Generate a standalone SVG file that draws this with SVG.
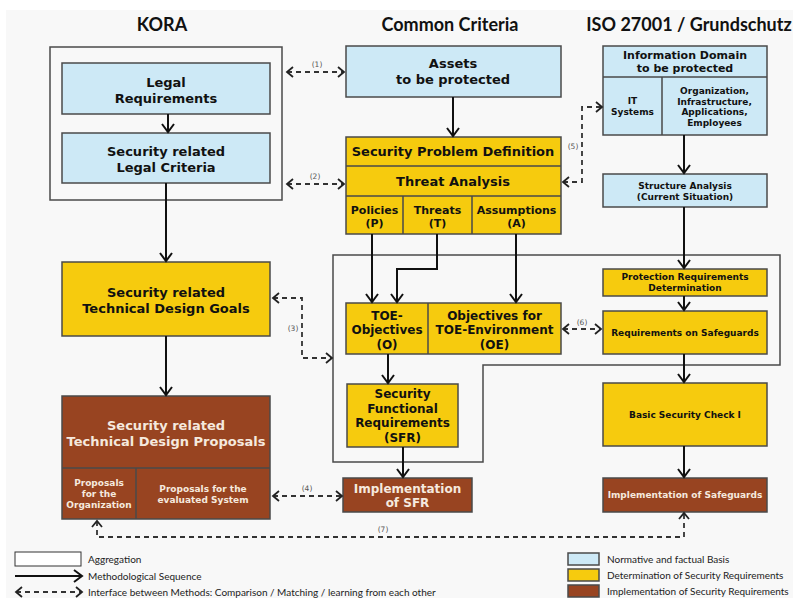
<svg xmlns="http://www.w3.org/2000/svg" width="793" height="598" viewBox="0 0 793 598">
<style>
.bl{fill:#cde9f6;stroke:#4a4a4a;stroke-width:1.5}
.ye{fill:#f6cb0e;stroke:#4a4a4a;stroke-width:1.5}
.br{fill:#984421;stroke:#4a4a4a;stroke-width:1.5}
.div{stroke:#4a4a4a;stroke-width:1.5;fill:none}
.agg{fill:none;stroke:#4a4a4a;stroke-width:1.5}
.t{font-family:"DejaVu Sans",Verdana,sans-serif;font-weight:bold;fill:#111;text-anchor:middle}
.w{fill:#f5e9de}
.f13{font-size:13px}
.f12{font-size:12px}
.f11{font-size:11px}
.f9{font-size:9px}
.ttl{font-family:Lato,"Open Sans",sans-serif;font-weight:bold;font-size:18px;fill:#111;text-anchor:middle}
.lg{font-family:Lato,"Open Sans",sans-serif;font-size:10px;fill:#222}
.num{font-family:"DejaVu Sans",sans-serif;font-size:7.5px;fill:#555;text-anchor:middle}
.sol{stroke:#111;stroke-width:2;fill:none;marker-end:url(#ah)}
.das{stroke:#333;stroke-width:1.8;fill:none;stroke-dasharray:5,4;marker-start:url(#dh);marker-end:url(#dh)}
</style>
<defs>
<marker id="ah" markerUnits="userSpaceOnUse" markerWidth="16" markerHeight="16" viewBox="-9 -8 10 16" refX="0" refY="0" orient="auto">
<path d="M-8,-6 L0,0 L-8,6" fill="none" stroke="#111" stroke-width="2"/>
</marker>
<marker id="dh" markerUnits="userSpaceOnUse" markerWidth="14" markerHeight="14" viewBox="-8 -7 9 14" refX="0" refY="0" orient="auto-start-reverse">
<path d="M-6,-5 L0,0 L-6,5" fill="none" stroke="#222" stroke-width="1.8"/>
</marker>
</defs>
<rect x="6" y="10" width="787" height="588" fill="#f8f8f8"/>

<g id="titles">
<text class="ttl" x="162" y="31">KORA</text>
<text class="ttl" x="450" y="31">Common Criteria</text>
<text class="ttl" x="689" y="31">ISO 27001 / Grundschutz</text>
</g>

<g id="aggregations">
<rect class="agg" x="50" y="47" width="232" height="153"/>
<path class="agg" d="M333,255 H780 V365 H483 V462 H333 Z"/>
</g>

<g id="legal-requirements">
<rect class="bl" x="62" y="63" width="208" height="51"/>
<text class="t f13" x="166" y="87">Legal</text>
<text class="t f13" x="166" y="103">Requirements</text>
</g>
<g id="legal-criteria">
<rect class="bl" x="62" y="133" width="208" height="50"/>
<text class="t f13" x="166" y="156">Security related</text>
<text class="t f13" x="166" y="172">Legal Criteria</text>
</g>
<g id="design-goals">
<rect class="ye" x="62" y="262" width="208" height="74"/>
<text class="t f13" x="166" y="297">Security related</text>
<text class="t f13" x="166" y="313">Technical Design Goals</text>
</g>
<g id="design-proposals">
<rect class="br" x="62" y="396" width="208" height="123"/>
<path class="div" d="M62,468 H270 M136,468 V519"/>
<text class="t f13 w" x="166" y="430">Security related</text>
<text class="t f13 w" x="166" y="446">Technical Design Proposals</text>
<text class="t f9 w" x="99" y="486">Proposals</text>
<text class="t f9 w" x="99" y="497">for the</text>
<text class="t f9 w" x="99" y="508">Organization</text>
<text class="t f9 w" x="203" y="492">Proposals for the</text>
<text class="t f9 w" x="203" y="503">evaluated System</text>
</g>

<g id="assets">
<rect class="bl" x="346" y="46" width="215" height="51"/>
<text class="t f13" x="453" y="68">Assets</text>
<text class="t f13" x="453" y="84">to be protected</text>
</g>
<g id="security-problem-definition">
<rect class="ye" x="346" y="137" width="215" height="97"/>
<path class="div" d="M346,166 H561 M346,196 H561 M403,196 V234 M472,196 V234"/>
<text class="t f13" x="453" y="156">Security Problem Definition</text>
<text class="t f13" x="453" y="186">Threat Analysis</text>
<text class="t f11" x="374.5" y="214">Policies</text>
<text class="t f11" x="374.5" y="227">(P)</text>
<text class="t f11" x="437.5" y="214">Threats</text>
<text class="t f11" x="437.5" y="227">(T)</text>
<text class="t f11" x="516.5" y="214">Assumptions</text>
<text class="t f11" x="516.5" y="227">(A)</text>
</g>
<g id="objectives">
<rect class="ye" x="346" y="303" width="215" height="51"/>
<path class="div" d="M428,303 V354"/>
<text class="t f12" x="387" y="320">TOE-</text>
<text class="t f12" x="387" y="334">Objectives</text>
<text class="t f12" x="387" y="349">(O)</text>
<text class="t f12" x="494.5" y="320">Objectives for</text>
<text class="t f12" x="494.5" y="334">TOE-Environment</text>
<text class="t f12" x="494.5" y="349">(OE)</text>
</g>
<g id="sfr">
<rect class="ye" x="347" y="384" width="111" height="63"/>
<text class="t f12" x="402.5" y="398">Security</text>
<text class="t f12" x="402.5" y="413">Functional</text>
<text class="t f12" x="402.5" y="427">Requirements</text>
<text class="t f12" x="402.5" y="442">(SFR)</text>
</g>
<g id="implementation-sfr">
<rect class="br" x="343" y="478" width="129" height="34"/>
<text class="t f12 w" x="407.5" y="493">Implementation</text>
<text class="t f12 w" x="407.5" y="507">of SFR</text>
</g>

<g id="information-domain">
<rect class="bl" x="603" y="46" width="164" height="89"/>
<path class="div" d="M603,77 H767 M662,77 V135"/>
<text class="t f11" x="685" y="59">Information Domain</text>
<text class="t f11" x="685" y="72">to be protected</text>
<text class="t f9" x="632.5" y="104">IT</text>
<text class="t f9" x="632.5" y="115">Systems</text>
<text class="t f9" x="714.5" y="94">Organization,</text>
<text class="t f9" x="714.5" y="104.5">Infrastructure,</text>
<text class="t f9" x="714.5" y="115">Applications,</text>
<text class="t f9" x="714.5" y="126">Employees</text>
</g>
<g id="structure-analysis">
<rect class="bl" x="603" y="174" width="164" height="33"/>
<text class="t f9" x="685" y="189">Structure Analysis</text>
<text class="t f9" x="685" y="200">(Current Situation)</text>
</g>
<g id="protection-requirements">
<rect class="ye" x="603" y="269" width="164" height="27"/>
<text class="t f9" x="685" y="280">Protection Requirements</text>
<text class="t f9" x="685" y="291">Determination</text>
</g>
<g id="requirements-safeguards">
<rect class="ye" x="603" y="311" width="164" height="43"/>
<text class="t f9" x="685" y="335.5">Requirements on Safeguards</text>
</g>
<g id="basic-security-check">
<rect class="ye" x="603" y="383" width="164" height="63"/>
<text class="t f9" x="685" y="418">Basic Security Check I</text>
</g>
<g id="implementation-safeguards">
<rect class="br" x="603" y="478" width="164" height="34"/>
<text class="t f9 w" x="685" y="498">Implementation of Safeguards</text>
</g>

<g id="connectors">
<path class="sol" d="M168,114 V132"/>
<path class="sol" d="M166,183 V261"/>
<path class="sol" d="M166,336 V395"/>
<path class="sol" d="M453,97 V136"/>
<path class="sol" d="M372,234 V302"/>
<path class="sol" d="M437,234 V269 H397 V302"/>
<path class="sol" d="M516,234 V302"/>
<path class="sol" d="M388,354 V383"/>
<path class="sol" d="M403,447 V477"/>
<path class="sol" d="M684,135 V173"/>
<path class="sol" d="M684,207 V268"/>
<path class="sol" d="M684,296 V310"/>
<path class="sol" d="M684,354 V382"/>
<path class="sol" d="M684,446 V477"/>
<path class="das" d="M287,72 H344"/>
<path class="das" d="M287,184 H344"/>
<path class="das" d="M273,298 H302 V358 H332"/>
<path class="das" d="M273,496 H342"/>
<path class="das" d="M563,182 H582 V107 H602"/>
<path class="das" d="M563,329 H601"/>
<path class="das" d="M97,521 V537 H684 V513"/>
<text class="num" x="317" y="67">(1)</text>
<text class="num" x="315" y="179">(2)</text>
<text class="num" x="293" y="331">(3)</text>
<text class="num" x="307" y="491">(4)</text>
<text class="num" x="573" y="149">(5)</text>
<text class="num" x="582" y="325">(6)</text>
<text class="num" x="383" y="532">(7)</text>
</g>

<g id="legend">
<rect x="15" y="552" width="66" height="14" fill="#fff" stroke="#333" stroke-width="1"/>
<text class="lg" x="88" y="563">Aggregation</text>
<path class="sol" d="M15,576 H82"/>
<text class="lg" x="88" y="580">Methodological Sequence</text>
<path class="das" d="M16,592 H82"/>
<text class="lg" x="88" y="596">Interface between Methods: Comparison / Matching / learning from each other</text>
<rect class="bl" x="568" y="553" width="31" height="12" stroke-width="1"/>
<rect class="ye" x="568" y="569" width="31" height="12" stroke-width="1"/>
<rect class="br" x="568" y="585" width="31" height="12" stroke-width="1"/>
<text class="lg" x="607" y="563">Normative and factual Basis</text>
<text class="lg" x="607" y="579">Determination of Security Requirements</text>
<text class="lg" x="607" y="595">Implementation of Security Requirements</text>
</g>
</svg>
